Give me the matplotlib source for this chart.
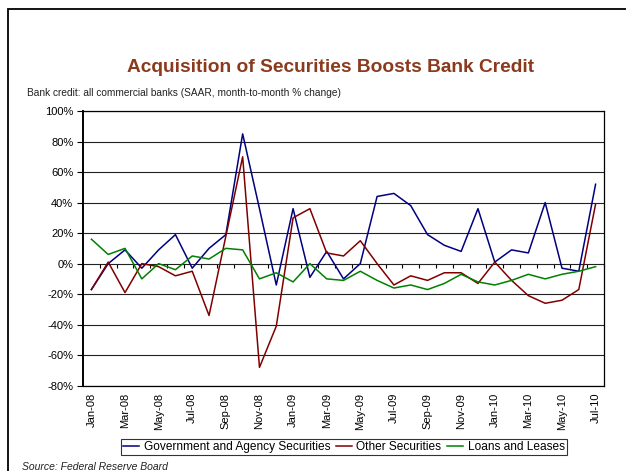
import numpy as np
import matplotlib.pyplot as plt
from matplotlib.patches import Rectangle

# Datos: crédito bancario, variación mensual anualizada (%)
meses = ["Jan-08", "Feb-08", "Mar-08", "Apr-08", "May-08", "Jun-08", "Jul-08", "Aug-08",
         "Sep-08", "Oct-08", "Nov-08", "Dec-08", "Jan-09", "Feb-09", "Mar-09", "Apr-09",
         "May-09", "Jun-09", "Jul-09", "Aug-09", "Sep-09", "Oct-09", "Nov-09", "Dec-09",
         "Jan-10", "Feb-10", "Mar-10", "Apr-10", "May-10", "Jun-10", "Jul-10"]

gobierno = [-17, 0, 9, -3, 9, 19, -3, 10, 19, 85, 36, -14, 36, -9, 8, -10,
            0, 44, 46, 38, 19, 12, 8, 36, 1, 9, 7, 40, -3, -5, 52]
otros = [-17, 1, -19, 0, -2, -8, -5, -34, 18, 70, -68, -41, 30, 36, 7, 5,
         15, 0, -14, -8, -11, -6, -6, -13, 1, -11, -21, -26, -24, -17, 39]
prestamos = [16, 6, 10, -10, 0, -4, 5, 3, 10, 9, -10, -6, -12, 0, -10, -11,
             -5, -11, -16, -14, -17, -13, -7, -12, -14, -11, -7, -10, -7, -5, -2]

x = np.arange(len(meses))

fig = plt.figure(figsize=(6.26, 4.71), dpi=100)
plt.rcParams["font.family"] = ["Liberation Sans", "DejaVu Sans"]

# marco exterior (solo se ven borde izquierdo y superior)
fig.patches.append(Rectangle((8 / 626, -0.1), 1.2, 1 - 9 / 471 + 0.1, transform=fig.transFigure,
                             fill=False, edgecolor="black", linewidth=1.3))

ax = fig.add_axes([83 / 626, 1 - 385.7 / 471, (604 - 83) / 626, (385.7 - 111) / 471])

ax.plot(x, gobierno, color="#000080", linewidth=1.1, label="Government and Agency Securities")
ax.plot(x, otros, color="#800000", linewidth=1.1, label="Other Securities")
ax.plot(x, prestamos, color="#008000", linewidth=1.1, label="Loans and Leases")

ax.set_xlim(-0.5, len(meses) - 0.5)
ax.set_ylim(-80, 100)
ax.set_yticks(np.arange(-80, 101, 20))
ax.set_yticklabels([f"{v}%" for v in range(-80, 101, 20)])
ax.yaxis.grid(True, color="#222222", linewidth=0.8)
ax.set_axisbelow(True)
ax.tick_params(axis="y", direction="out", length=4, width=0.8, labelsize=8, pad=3)

ax.set_xticks(x[::2])
ax.set_xticklabels(meses[::2], rotation=90)
ax.tick_params(axis="x", length=0, labelsize=8, pad=5)

for s in ax.spines.values():
    s.set_color("black")
    s.set_linewidth(0.9)
ax.spines["left"].set_linewidth(1.4)

# marcas de categoría sobre la línea del cero
y0 = (0 - (-80)) / 180
sec = ax.secondary_xaxis(y0)
sec.set_xticks(np.arange(-0.5, len(meses), 1))
sec.tick_params(axis="x", direction="out", length=3, width=0.8, labelbottom=False,
                labeltop=False, top=False, bottom=True)
sec.spines["bottom"].set_visible(False)
sec.spines["top"].set_visible(False)

fig.text(331 / 626, 1 - 68 / 471, "Acquisition of Securities Boosts Bank Credit",
         ha="center", va="center", fontsize=13.8, fontweight="bold", color="#8B3A1E")
fig.text(27 / 626, 1 - 93 / 471, "Bank credit: all commercial banks (SAAR, month-to-month % change)",
         ha="left", va="center", fontsize=7.3, color="#222222")
fig.text(22 / 626, 1 - 467 / 471, "Source: Federal Reserve Board",
         ha="left", va="center", fontsize=7.5, style="italic", color="#222222")

leg = fig.legend(loc="center", bbox_to_anchor=(344 / 626, 1 - 447 / 471), ncol=3,
                 fontsize=8.6, frameon=True, fancybox=False, handlelength=1.3,
                 handletextpad=0.4, columnspacing=0.5, borderpad=0.2)
leg.get_frame().set_edgecolor("black")
leg.get_frame().set_linewidth(0.8)

fig.savefig("out.png", dpi=100)
